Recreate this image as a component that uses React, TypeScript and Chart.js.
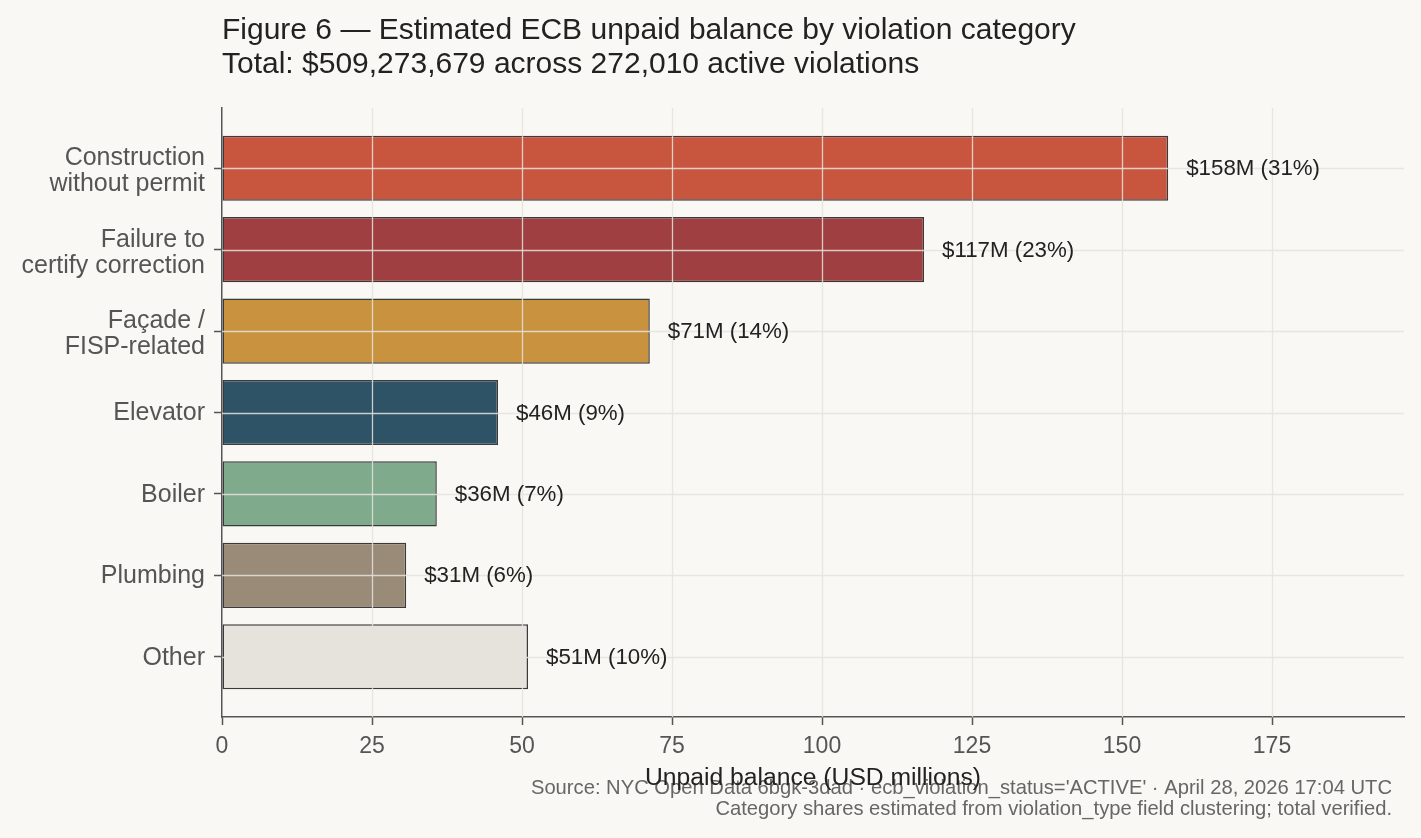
import React, { useEffect, useRef } from "react";
import { Chart, registerables } from "chart.js";

Chart.register(...registerables);

// Violation categories (multi-line tick labels) and unpaid balances in USD millions
const categories: string[][] = [
  ["Construction", "without permit"],
  ["Failure to", "certify correction"],
  ["Façade /", "FISP-related"],
  ["Elevator"],
  ["Boiler"],
  ["Plumbing"],
  ["Other"],
];
const balances: number[] = [157.7, 117.0, 71.3, 46.0, 35.8, 30.7, 51.0];
const barColors: string[] = [
  "#c8563f",
  "#9f3f41",
  "#c9923f",
  "#2e5367",
  "#7faa8b",
  "#9a8b79",
  "#e6e3dd",
];
const xTicks: number[] = [0, 25, 50, 75, 100, 125, 150, 175];
const totalBalanceMillions = 509.273679;

const titleLines: string[] = [
  "Figure 6 — Estimated ECB unpaid balance by violation category",
  "Total: $509,273,679 across 272,010 active violations",
];
const xAxisTitle = "Unpaid balance (USD millions)";
const sourceLines: string[] = [
  "Source: NYC Open Data 6bgk-3dad · ecb_violation_status='ACTIVE' · April 28, 2026 17:04 UTC",
  "Category shares estimated from violation_type field clustering; total verified.",
];

const FONT = "'Liberation Sans', Arial, Helvetica, sans-serif";
const BG = "#f9f8f4";
const AXIS = "#555555";
const GRID = "rgba(230,227,220,0.85)";

const valueLabel = (v: number) =>
  `$${Math.round(v)}M (${Math.round((v / totalBalanceMillions) * 100)}%)`;

// Background fill, grid lines over the bars, value labels, category labels and text blocks
const decorations = {
  id: "decorations",
  beforeDraw(chart: any) {
    const { ctx, width, height } = chart;
    ctx.save();
    ctx.fillStyle = BG;
    ctx.fillRect(0, 0, width, height);
    ctx.restore();
  },
  afterDatasetsDraw(chart: any) {
    const { ctx, chartArea } = chart;
    const xs = chart.scales.x;
    const ys = chart.scales.y;
    ctx.save();
    ctx.strokeStyle = GRID;
    ctx.lineWidth = 1.3;
    xTicks.forEach((t) => {
      if (t === 0) return;
      const px = Math.round(xs.getPixelForValue(t)) + 0.5;
      ctx.beginPath();
      ctx.moveTo(px, chartArea.top);
      ctx.lineTo(px, chartArea.bottom);
      ctx.stroke();
    });
    categories.forEach((_, i) => {
      const py = Math.round(ys.getPixelForValue(i)) + 0.5;
      ctx.beginPath();
      ctx.moveTo(chartArea.left, py);
      ctx.lineTo(chartArea.right, py);
      ctx.stroke();
    });

    const meta = chart.getDatasetMeta(0);
    ctx.fillStyle = "#222222";
    ctx.font = `22.3px ${FONT}`;
    ctx.textAlign = "left";
    ctx.textBaseline = "middle";
    meta.data.forEach((bar: any, i: number) => {
      ctx.fillText(valueLabel(balances[i]), bar.x + 18, bar.y + 1);
    });
    ctx.restore();
  },
  afterDraw(chart: any) {
    const { ctx, chartArea } = chart;
    const ys = chart.scales.y;
    ctx.save();

    // category labels beside the y axis
    ctx.fillStyle = AXIS;
    ctx.font = `25px ${FONT}`;
    ctx.textAlign = "right";
    ctx.textBaseline = "middle";
    const labelRight = chartArea.left - 17;
    categories.forEach((lines, i) => {
      const cy = ys.getPixelForValue(i);
      if (lines.length === 1) {
        ctx.fillText(lines[0], labelRight, cy + 1);
      } else {
        ctx.fillText(lines[0], labelRight, cy - 10);
        ctx.fillText(lines[1], labelRight, cy + 16);
      }
    });

    ctx.fillStyle = "#222222";
    ctx.font = `30px ${FONT}`;
    ctx.textAlign = "left";
    ctx.textBaseline = "alphabetic";
    ctx.fillText(titleLines[0], chartArea.left, 39);
    ctx.fillText(titleLines[1], chartArea.left, 73);

    ctx.fillStyle = "#666666";
    ctx.font = `20.2px ${FONT}`;
    ctx.textAlign = "right";
    ctx.fillText(sourceLines[0], 1392, 794);
    ctx.fillText(sourceLines[1], 1392, 815);

    ctx.fillStyle = "#222222";
    ctx.font = `24.7px ${FONT}`;
    ctx.textAlign = "center";
    ctx.fillText(xAxisTitle, (chartArea.left + chartArea.right) / 2, 785);
    ctx.restore();
  },
};

export default function App() {
  const canvasRef = useRef<HTMLCanvasElement | null>(null);

  useEffect(() => {
    document.body.style.margin = "0";
    document.body.style.background = BG;
    const canvas = canvasRef.current;
    if (!canvas) return;

    const chart = new Chart(canvas, {
      type: "bar",
      data: {
        datasets: [
          {
            data: balances.map((v, i) => ({ x: v, y: i })),
            backgroundColor: barColors,
            borderColor: "#3a3a3a",
            borderWidth: 1.5,
            borderSkipped: false,
            categoryPercentage: 1,
            barPercentage: 0.8,
          },
        ],
      },
      options: {
        indexAxis: "y",
        responsive: false,
        animation: false,
        devicePixelRatio: 1,
        layout: { padding: { top: 108, right: 17, left: 0, bottom: 0 } },
        plugins: {
          legend: { display: false },
          title: { display: false },
          tooltip: { enabled: false },
        },
        scales: {
          x: {
            type: "linear",
            position: "bottom",
            min: 0,
            max: 197,
            offset: false,
            z: 1,
            afterBuildTicks: (scale: any) => {
              scale.ticks = xTicks.map((v) => ({ value: v }));
            },
            afterFit: (scale: any) => {
              scale.height = 121;
            },
            grid: {
              offset: false,
              drawOnChartArea: false,
              drawTicks: true,
              tickLength: 8,
              tickColor: AXIS,
              tickWidth: 1.5,
            },
            border: { display: true, color: AXIS, width: 1.5 },
            ticks: {
              color: AXIS,
              font: { family: FONT, size: 23 },
              padding: 8,
              maxRotation: 0,
              callback: (v: any) => String(v),
            },
          },
          y: {
            type: "linear",
            position: "left",
            reverse: true,
            min: -0.74,
            max: 6.74,
            offset: false,
            z: 1,
            afterBuildTicks: (scale: any) => {
              scale.ticks = categories.map((_, i) => ({ value: i }));
            },
            afterFit: (scale: any) => {
              scale.width = 222;
            },
            grid: {
              offset: false,
              drawOnChartArea: false,
              drawTicks: true,
              tickLength: 8,
              tickColor: AXIS,
              tickWidth: 1.5,
            },
            border: { display: true, color: AXIS, width: 1.5 },
            ticks: { display: false },
          },
        },
      },
      plugins: [decorations],
    } as any);

    return () => chart.destroy();
  }, []);

  return (
    <div style={{ width: 1421, height: 838, background: BG }}>
      <canvas ref={canvasRef} width={1421} height={838} style={{ display: "block" }} />
    </div>
  );
}
